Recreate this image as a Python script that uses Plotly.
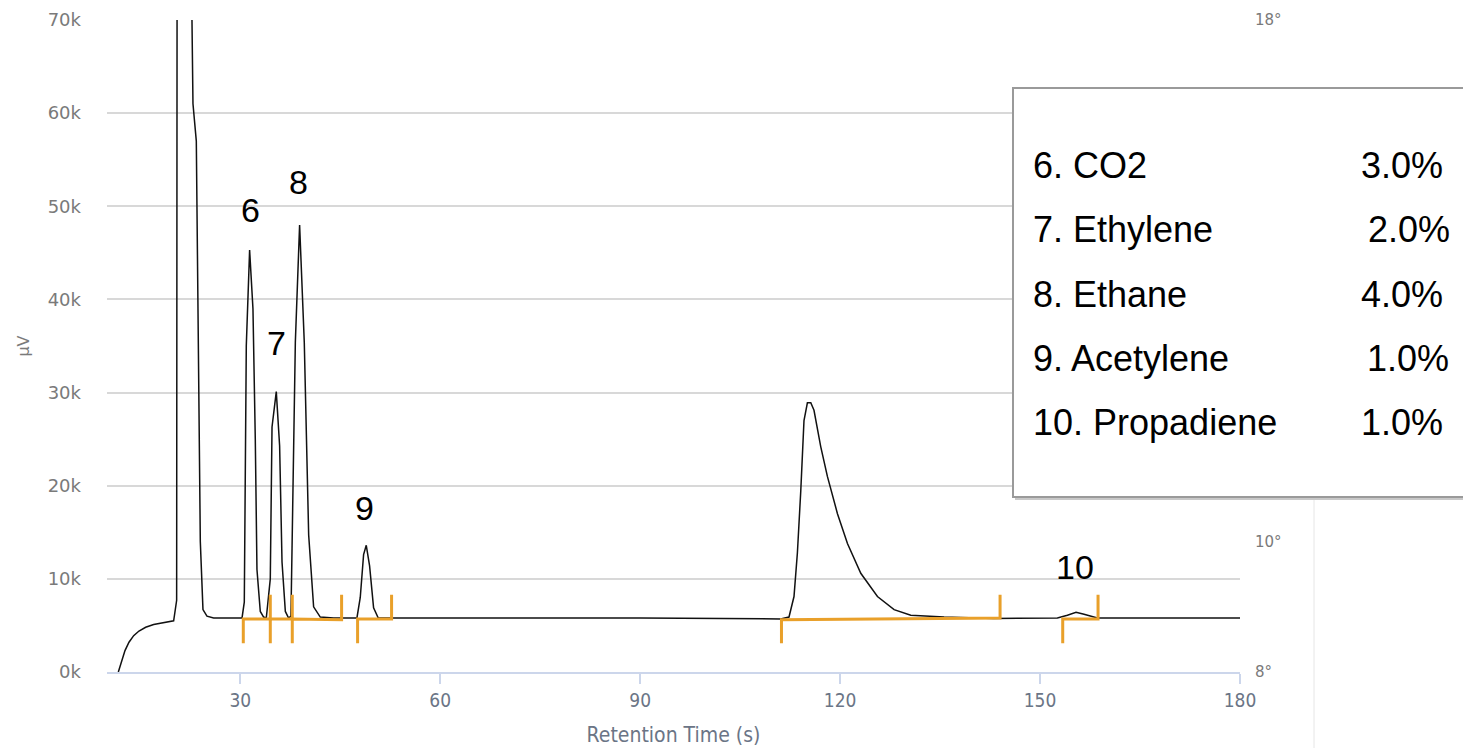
import plotly.graph_objects as go

# ---------------- data ----------------
# chromatogram signal (retention time s, µV)
time_s = [11.7, 12.2, 12.7, 13.3, 14.0, 14.8, 15.8, 17.0, 18.5, 20.0, 20.45, 20.62, 21.6, 22.7, 22.75,
          22.9, 23.4, 24.0, 24.4, 25.0, 26.0,
          30.0, 30.26, 30.6, 30.9, 31.4, 31.9, 32.25, 32.5, 33.0, 33.5, 33.9,
          34.5, 34.76, 35.4, 35.9, 36.26, 36.76, 37.25,
          37.6, 38.26, 38.9, 39.6, 40.26, 41.0, 42.0, 44.0,
          47.5, 48.0, 48.5, 48.9, 49.4, 50.0, 50.7, 60.0, 90.0,
          111.08, 112.33, 113.08, 113.59, 114.1, 114.58, 115.09, 115.6, 116.08, 117.09, 118.09,
          119.6, 121.1, 123.1, 125.6, 128.1, 130.6, 135.6, 143.06,
          152.6, 154.1, 155.4, 156.6, 158.6, 170.0, 180.0]
signal_uv = [0, 1300, 2300, 3200, 3900, 4400, 4800, 5100, 5300, 5500, 7700, 180000, 250000, 180000, 70000,
             61000, 57000, 14000, 6700, 6000, 5800,
             5800, 5800, 7500, 35000, 45300, 39000, 25000, 11000, 6500, 5900, 5800,
             10000, 26300, 30100, 24300, 11800, 6500, 5800,
             6000, 35400, 48000, 35400, 14700, 7000, 5900, 5800,
             5800, 8000, 12600, 13600, 11400, 6900, 5800, 5800, 5800,
             5700, 5900, 8100, 12800, 19500, 27000, 28900, 28900, 28100, 24200, 21000,
             17000, 13800, 10600, 8100, 6700, 6100, 5900, 5750,
             5800, 6100, 6400, 6200, 5800, 5800, 5800]

# integration baselines (orange markers)
integ_start = [30.45, 34.5, 37.8, 47.6, 111.2, 153.4]
integ_end = [34.5, 37.8, 45.2, 52.7, 144.0, 158.7]
integ_base_start = [5700, 5700, 5700, 5700, 5600, 5700]
integ_base_end = [5700, 5700, 5600, 5700, 5800, 5700]
tick_low = 3100
tick_high = 8300

# peak labels
peak_labels = ["6", "7", "8", "9", "10"]
peak_label_x = [31.5, 35.4, 38.7, 48.6, 155.2]
peak_label_y = [49600, 35300, 52600, 17600, 11300]

# component table
comp_names = ["6. CO2", "7. Ethylene", "8. Ethane", "9. Acetylene", "10. Propadiene"]
comp_pct = ["3.0%", "2.0%", "4.0%", "1.0%", "1.0%"]

# axes
y_tickvals = [0, 10000, 20000, 30000, 40000, 50000, 60000, 70000]
y_ticktext = ["0k", "10k", "20k", "30k", "40k", "50k", "60k", "70k"]
x_tickvals = [30, 60, 90, 120, 150, 180]
temp_tickvals = [8, 10, 18]
temp_ticktext = ["8°", "10°", "18°"]

# ---------------- figure ----------------
OFF = 8  # page body margin
W, H = 1463, 740
L, R, T, B = 99, 231, 12, 76
PW, PH = W - L - R, H - T - B


def px_x(px):
    return (px - OFF - L) / PW


def px_y(py):
    return (H - B - (py - OFF)) / PH


ORANGE = "#E9A02A"
SANS = "Liberation Sans, Arial"
TICKF = "DejaVu Sans, Verdana"
XF = "Liberation Sans Narrow, DejaVu Sans Condensed, Roboto Condensed, Roboto"

fig = go.Figure()

fig.add_trace(go.Scatter(x=time_s, y=signal_uv, mode="lines",
                         line=dict(color="#111111", width=1.5),
                         showlegend=False, hoverinfo="skip"))

ox, oy = [], []
for s, e, bs, be in zip(integ_start, integ_end, integ_base_start, integ_base_end):
    ox += [s, s, e, e, None]
    oy += [tick_low, bs, be, tick_high, None]
fig.add_trace(go.Scatter(x=ox, y=oy, mode="lines",
                         line=dict(color=ORANGE, width=3),
                         showlegend=False, hoverinfo="skip"))

# dummy trace to activate temperature axis
fig.add_trace(go.Scatter(x=[None], y=[None], yaxis="y2", mode="lines",
                         showlegend=False, hoverinfo="skip"))

annotations = []
for t, x, y in zip(peak_labels, peak_label_x, peak_label_y):
    annotations.append(dict(x=x, y=y, xref="x", yref="y", text=t, showarrow=False,
                            font=dict(family=SANS, size=34, color="#000")))

row_y = [165, 229, 294, 358, 422]
pct_right = [1445, 1452, 1445, 1451, 1445]
for name, pct, ry, pr in zip(comp_names, comp_pct, row_y, pct_right):
    annotations.append(dict(x=px_x(1031), y=px_y(ry), xref="paper", yref="paper",
                            text=name, showarrow=False, xanchor="left", yanchor="middle",
                            font=dict(family=SANS, size=36, color="#000")))
    annotations.append(dict(x=px_x(pr), y=px_y(ry), xref="paper", yref="paper",
                            text=pct, showarrow=False, xanchor="right", yanchor="middle",
                            font=dict(family=SANS, size=36, color="#000")))

shapes = [
    # container edge line
    dict(type="line", xref="paper", yref="paper", x0=px_x(1314), x1=px_x(1314),
         y0=px_y(497), y1=px_y(760), line=dict(color="#e6e6e6", width=1), layer="below"),
    # shadow
    dict(type="rect", xref="paper", yref="paper", x0=px_x(1015), x1=px_x(1490),
         y0=px_y(500), y1=px_y(91), line=dict(width=0), fillcolor="#c8c8c8", layer="above"),
    # box
    dict(type="rect", xref="paper", yref="paper", x0=px_x(1013), x1=px_x(1490),
         y0=px_y(497), y1=px_y(88), line=dict(color="#9a9a9a", width=2),
         fillcolor="#ffffff", layer="above"),
]

fig.update_layout(
    width=W, height=H,
    margin=dict(l=L, r=R, t=T, b=B, pad=0, autoexpand=False),
    paper_bgcolor="#ffffff", plot_bgcolor="#ffffff",
    showlegend=False,
    annotations=annotations,
    shapes=shapes,
    xaxis=dict(range=[10, 180], tickvals=x_tickvals, ticks="outside", ticklen=10,
               tickcolor="#ccd6eb", tickwidth=1.5, showline=True, linecolor="#ccd6eb",
               linewidth=2, showgrid=False, zeroline=False, automargin=False,
               tickfont=dict(family=XF, size=19, color="#6b7586"),
               title=dict(text="Retention Time (s)", standoff=18,
                          font=dict(family=XF, size=21, color="#6b7586"))),
    yaxis=dict(range=[0, 70000], tickvals=y_tickvals, ticktext=y_ticktext,
               showgrid=True, gridcolor="#d8d8d8", gridwidth=1.5, zeroline=False,
               showline=False, ticks="", ticklabelstandoff=25, automargin=False,
               tickfont=dict(family=TICKF, size=18, color="#7a7a7a"),
               title=dict(text="µV", standoff=14,
                          font=dict(family=TICKF, size=16, color="#7a7a7a"))),
    yaxis2=dict(range=[8, 18], overlaying="y", side="right", tickvals=temp_tickvals,
                ticktext=temp_ticktext, showgrid=False, zeroline=False, showline=False,
                ticks="", ticklabelstandoff=14, automargin=False,
                tickfont=dict(family=TICKF, size=15, color="#7a7a7a")),
)

fig.write_html("out.html")
